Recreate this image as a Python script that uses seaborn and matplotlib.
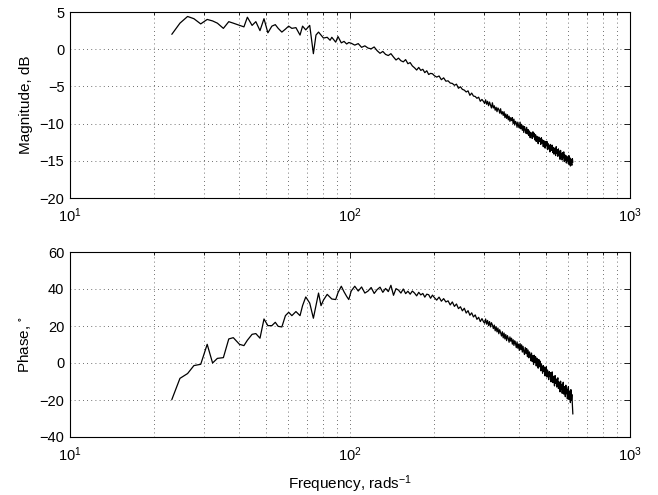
import numpy as np
import pandas as pd
import matplotlib
matplotlib.use("Agg")
import matplotlib.pyplot as plt
import seaborn as sns
from matplotlib.ticker import LogLocator, NullFormatter

# ---------------- data ----------------
freq = [
    23.1, 24.7, 26.3, 27.7, 29.3, 30.9, 32.3, 33.6, 35.3, 36.9, 38.3, 40.3, 41.8, 43.0, 44.7,
    46.1, 47.7, 49.3, 50.9, 52.6, 54.1, 55.4, 57.1, 58.8, 60.4, 62.0, 64.1, 66.3, 67.7, 69.5,
    71.8, 74.0, 75.6, 77.2, 78.8, 80.4, 82.9, 84.9, 86.1, 88.9, 90.6, 93.1, 95.2, 97.3, 99.0,
    101, 104, 107, 110, 113, 116, 119, 122, 125, 128, 131, 134, 137, 140, 143, 146, 149, 152,
    155, 158, 161, 164, 167, 170, 173, 176, 179, 182, 185, 188, 191, 194, 197, 200, 204, 208,
    212, 216, 220, 224, 228, 232, 236, 240, 244, 248, 252, 256, 260, 264, 268, 272, 276, 280,
    284, 288, 292, 296, 300,
    302.5, 305, 307.5, 310, 312.5, 315, 317.5, 320, 322.5, 325,
    327.5, 330, 332.5, 335, 337.5, 340, 342.5, 345, 347.5, 350,
    352.5, 355, 357.5, 360, 362.5, 365, 367.5, 370, 372.5, 375,
    377.5, 380, 382.5, 385, 387.5, 390, 392.5, 395, 397.5, 400,
    402.5, 405, 407.5, 410, 412.5, 415, 417.5, 420, 422.5, 425,
    427.5, 430, 432.5, 435, 437.5, 440, 442.5, 445, 447.5, 450,
    452.5, 455, 457.5, 460, 462.5, 465, 467.5, 470, 472.5, 475,
    477.5, 480, 482.5, 485, 487.5, 490, 492.5, 495, 497.5, 500,
    502.5, 505, 507.5, 510, 512.5, 515, 517.5, 520, 522.5, 525,
    527.5, 530, 532.5, 535, 537.5, 540, 542.5, 545, 547.5, 550,
    552.5, 555, 557.5, 560, 562.5, 565, 567.5, 570, 572.5, 575,
    577.5, 580, 582.5, 585, 587.5, 590, 592.5, 595, 597.5, 600,
    602.5, 605, 607.5, 610, 612.5, 615, 617.5, 620, 622.5, 625,
]

magnitude_db = [
    2.0, 3.5, 4.4, 4.1, 3.4, 4.0, 3.8, 3.5, 2.8, 3.7, 3.5, 3.2, 3.0, 4.3, 3.2,
    3.7, 2.5, 4.1, 2.2, 3.1, 3.3, 2.8, 2.3, 2.7, 3.1, 2.8, 2.9, 1.9, 3.1, 2.6,
    3.2, -0.6, 1.9, 2.3, 1.9, 1.5, 1.6, 1.2, 1.6, 0.95, 1.7, 0.85, 1.05, 0.7, 0.9,
    0.8, 0.55, 0.75, 0.25, 0.45, 0.15, 0.05, 0.3, -0.2, -0.55, -0.3, -0.7, -0.85, -0.6, -1.05, -1.45, -1.2, -1.55,
    -1.7, -1.4, -1.95, -1.8, -2.25, -2.5, -2.8, -2.45, -2.85, -2.7, -3.15, -2.9, -3.4, -3.25, -3.3, -3.55, -3.75, -3.6,
    -4.1, -3.85, -4.3, -4.25, -4.55, -4.6, -4.85, -4.7, -5.25, -5.05, -5.4, -5.5, -5.75, -5.6, -6.2, -5.9, -6.3, -6.35,
    -6.6, -6.45, -7.0, -6.75, -7.05,
    -7.3, -6.8, -7.4, -7.0, -7.6, -7.1, -7.5, -7.9, -7.2, -7.9,
    -7.6, -8.2, -7.8, -8.4, -7.9, -8.1, -8.6, -8.0, -8.7, -8.4,
    -8.9, -8.4, -9.2, -8.7, -9.3, -8.8, -9.5, -9.0, -9.7, -9.2,
    -9.6, -9.2, -10.0, -9.4, -10.2, -9.7, -9.9, -10.5, -9.8, -10.3,
    -10.6, -9.8, -10.7, -10.1, -10.9, -10.3, -11.2, -10.4, -10.8, -11.3,
    -10.5, -11.4, -10.8, -11.6, -11.0, -11.9, -11.2, -11.4, -12.0, -11.1,
    -11.8, -11.3, -12.2, -11.5, -12.4, -11.7, -12.0, -12.7, -11.8, -12.4,
    -12.0, -12.8, -11.9, -12.6, -12.2, -13.1, -12.3, -12.7, -13.3, -12.4,
    -13.0, -12.4, -13.5, -12.7, -13.4, -12.9, -13.8, -12.8, -13.3, -13.6,
    -12.9, -13.9, -13.2, -14.1, -13.3, -13.7, -14.3, -13.1, -14.0, -13.5,
    -14.4, -13.4, -14.2, -13.7, -14.8, -13.6, -14.5, -14.0, -14.9, -13.9,
    -14.6, -13.8, -15.1, -14.2, -14.9, -14.3, -15.3, -14.4, -15.0, -14.6,
    -15.4, -14.3, -15.5, -14.6, -15.7, -14.8, -15.3, -15.6, -14.7, -15.2,
]

phase_deg = [
    -19.8, -8.3, -5.7, -1.4, -0.7, 10.1, 0.0, 2.5, 2.9, 13.0, 13.7, 10.1, 9.4, 12.3, 15.5,
    15.9, 13.4, 23.8, 20.2, 20.2, 22.0, 19.8, 19.5, 25.6, 27.4, 25.6, 27.8, 25.6, 31.0, 35.7,
    32.4, 24.2, 31.0, 37.8, 31.0, 34.0, 37.1, 35.5, 34.6, 34.3, 38.0, 41.5, 38.5, 36.0, 34.3,
    38.9, 41.5, 38.9, 41.1, 37.8, 38.9, 40.8, 37.6, 39.7, 41.0, 38.2, 40.3, 38.6, 42.0, 36.6, 40.2, 39.4, 37.8,
    40.0, 37.5, 38.8, 37.2, 38.9, 37.8, 36.3, 38.2, 36.8, 37.6, 35.6, 37.2, 36.9, 35.0, 36.7, 35.4, 34.0, 35.6,
    33.4, 34.8, 33.0, 33.6, 31.4, 33.0, 30.6, 31.9, 29.4, 30.4, 28.2, 29.6, 27.0, 28.3, 25.8, 27.1, 24.9, 26.0,
    23.6, 24.7, 22.4, 24.0, 22.2,
    21.5, 23.8, 21.0, 23.0, 20.2, 22.4, 19.5, 21.8, 20.6, 18.6,
    20.5, 17.4, 19.6, 16.8, 18.9, 15.8, 18.0, 16.4, 14.6, 16.9,
    13.6, 16.2, 13.0, 15.4, 12.1, 14.8, 13.3, 11.2, 14.1, 11.8,
    13.4, 10.2, 12.6, 9.5, 12.0, 10.6, 8.3, 11.4, 8.0, 10.2,
    6.8, 10.5, 7.2, 9.8, 5.9, 9.0, 6.2, 4.6, 8.4, 5.2,
    7.8, 3.4, 7.0, 2.8, 6.0, 4.5, 1.2, 5.4, 0.8, 3.9,
    -0.8, 4.2, 0.2, 3.4, -1.6, 2.6, -0.4, -2.8, 1.9, -2.0,
    1.0, -4.2, -0.5, -3.0, -5.6, -1.4, -4.6, -2.2, -7.0, -3.4,
    -2.0, -7.6, -3.8, -6.0, -9.0, -4.6, -7.4, -5.2, -10.2, -6.5,
    -4.8, -10.6, -7.2, -9.4, -12.4, -6.8, -11.0, -8.6, -13.0, -9.6,
    -8.0, -13.8, -10.2, -12.6, -15.6, -9.8, -14.0, -11.6, -16.4, -12.4,
    -10.4, -16.8, -12.8, -15.0, -18.2, -12.0, -16.6, -14.2, -19.4, -14.8,
    -12.8, -19.6, -15.2, -17.8, -21.4, -14.4, -20.2, -17.0, -22.6, -27.6,
]

mag_yticks = [-20, -15, -10, -5, 0, 5]
phase_yticks = [-40, -20, 0, 20, 40, 60]
x_ticks = [10, 100, 1000]

df = pd.DataFrame({"freq": freq, "mag": magnitude_db, "phase": phase_deg})

# ---------------- style ----------------
sns.set_theme(style="white")
plt.rcParams["font.family"] = ["Liberation Sans", "DejaVu Sans"]
plt.rcParams["mathtext.fontset"] = "custom"
plt.rcParams["mathtext.rm"] = "Liberation Sans"
plt.rcParams["mathtext.it"] = "Liberation Sans:italic"
plt.rcParams["mathtext.default"] = "regular"
plt.rcParams["axes.unicode_minus"] = True

fig = plt.figure(figsize=(6.58, 4.95), dpi=100)
ax1 = fig.add_axes([70 / 658, 1 - 198 / 495, 560 / 658, 186 / 495])
ax2 = fig.add_axes([70 / 658, 1 - 437 / 495, 560 / 658, 185 / 495])

sns.lineplot(data=df, x="freq", y="mag", ax=ax1, color="black", linewidth=0.9,
             estimator=None, sort=False)
sns.lineplot(data=df, x="freq", y="phase", ax=ax2, color="black", linewidth=0.9,
             estimator=None, sort=False)

for ax, yt in ((ax1, mag_yticks), (ax2, phase_yticks)):
    ax.set_xscale("log")
    ax.set_xlim(10, 1000)
    ax.set_ylim(yt[0], yt[-1])
    ax.set_yticks(yt)
    ax.set_xticks(x_ticks)
    ax.xaxis.set_minor_locator(LogLocator(base=10, subs=np.arange(2, 10)))
    ax.xaxis.set_minor_formatter(NullFormatter())
    ax.tick_params(axis="both", which="both", direction="in", top=True, right=True,
                   labelsize=10.5, colors="black")
    ax.tick_params(axis="x", which="major", pad=6)
    ax.tick_params(axis="y", which="major", pad=4)
    ax.tick_params(which="major", length=4, width=0.6)
    ax.tick_params(which="minor", length=2.5, width=0.6)
    ax.grid(True, which="major", axis="both", color="black", linestyle=(0, (1, 4)),
            linewidth=0.6, alpha=0.75)
    ax.grid(True, which="minor", axis="x", color="black", linestyle=(0, (1, 4)),
            linewidth=0.6, alpha=0.75)
    for s in ax.spines.values():
        s.set_visible(True)
        s.set_color("black")
        s.set_linewidth(0.8)
    ax.set_xlabel("")

ax1.set_ylabel("Magnitude, dB", fontsize=11, color="black", labelpad=5)
ax2.set_ylabel("Phase, $^{\\circ}$", fontsize=11, color="black", labelpad=5)
ax2.set_xlabel("Frequency, rads$^{-1}$", fontsize=11, color="black", labelpad=7)

fig.savefig("out.png", dpi=100, facecolor="white")
